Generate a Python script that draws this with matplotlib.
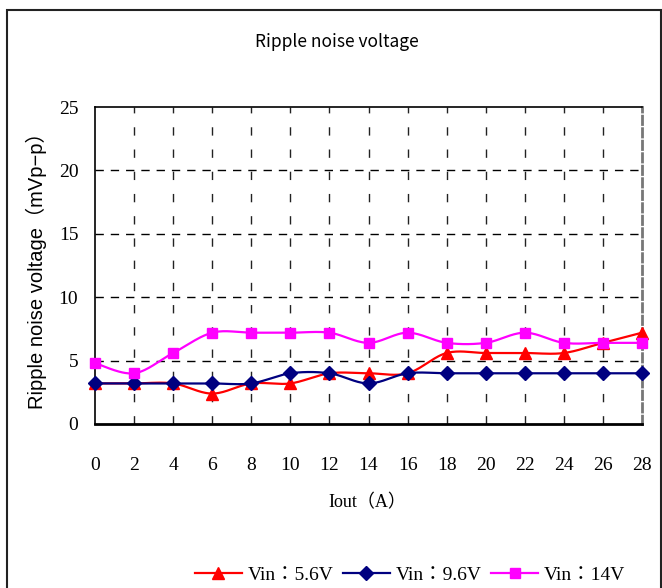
import numpy as np
import matplotlib
matplotlib.use("Agg")
import matplotlib.pyplot as plt
from matplotlib.patches import Rectangle

plt.rcParams['lines.scale_dashes'] = False

iout = [0, 2, 4, 6, 8, 10, 12, 14, 16, 18, 20, 22, 24, 26, 28]
vin_56 = [3.2, 3.2, 3.2, 2.4, 3.2, 3.2, 4.0, 4.0, 4.0, 5.6, 5.6, 5.6, 5.6, 6.4, 7.2]
vin_96 = [3.2, 3.2, 3.2, 3.2, 3.2, 4.0, 4.0, 3.2, 4.0, 4.0, 4.0, 4.0, 4.0, 4.0, 4.0]
vin_14 = [4.8, 4.0, 5.6, 7.2, 7.2, 7.2, 7.2, 6.4, 7.2, 6.4, 6.4, 7.2, 6.4, 6.4, 6.4]
labels = ["Vin：5.6V", "Vin：9.6V", "Vin：14V"]
colors = ["#ff0000", "#000080", "#ff00ff"]
markers = ["^", "D", "s"]
msizes = [9, 7, 7.5]
xticks = list(range(0, 29, 2))
yticks = [0, 5, 10, 15, 20, 25]


def smooth(x, y, n=30):
    x = np.asarray(x, float)
    y = np.asarray(y, float)
    P = np.column_stack([x, y])
    out = [P[0]]
    for i in range(len(P) - 1):
        p0 = P[i - 1] if i > 0 else P[i]
        p1 = P[i]
        p2 = P[i + 1]
        p3 = P[i + 2] if i + 2 < len(P) else P[i + 1]
        c1 = p1 + (p2 - p0) / 6.0
        c2 = p2 - (p3 - p1) / 6.0
        t = np.linspace(0, 1, n)[1:, None]
        seg = ((1 - t) ** 3) * p1 + 3 * ((1 - t) ** 2) * t * c1 + 3 * (1 - t) * t ** 2 * c2 + t ** 3 * p2
        out.extend(seg)
    out = np.array(out)
    return out[:, 0], out[:, 1]


fig = plt.figure(figsize=(6.62, 5.88), dpi=100)
fig.patches.append(Rectangle((6.5 / 662, -0.1), (661 - 6.5) / 662, 1.1 - 10 / 588,
                             transform=fig.transFigure, fill=False,
                             edgecolor='#222222', linewidth=1.5))

ax = fig.add_axes([95 / 662, (588 - 424) / 588, 547 / 662, 317 / 588])
ax.set_xlim(0, 28)
ax.set_ylim(0, 25)

for xv in xticks[1:-1]:
    ax.axvline(xv, color='#222222', linewidth=1.0, linestyle=(0, (6, 10)), zorder=1)
for yv in yticks[1:-1]:
    ax.axhline(yv, color='black', linewidth=1.0, linestyle=(0, (6, 5)), zorder=1)

handles = []
for ys, lab, c, m, ms in zip([vin_56, vin_96, vin_14], labels, colors, markers, msizes):
    sx, sy = smooth(iout, ys)
    ax.plot(sx, sy, color=c, linewidth=1.6, zorder=3, clip_on=False)
    ax.plot(iout, ys, linestyle='none', marker=m, markersize=ms, color=c,
            markeredgecolor=c, zorder=4, clip_on=False)
    h, = ax.plot([], [], color=c, linewidth=1.6, marker=m, markersize=ms)
    handles.append(h)

ax.spines['top'].set_linewidth(1.2)
ax.spines['left'].set_linewidth(1.2)
ax.spines['bottom'].set_linewidth(2.0)
ax.spines['bottom'].set_linestyle((0, (2.5, 2)))
ax.spines['right'].set_linewidth(2.0)
ax.spines['right'].set_color('#777777')
ax.spines['right'].set_linestyle((0, (6, 3)))

ax.set_xticks(xticks)
ax.set_yticks(yticks)
ax.tick_params(axis='both', length=0)
ax.tick_params(axis='x', pad=24)
ax.tick_params(axis='y', pad=12)
for t in ax.get_xticklabels() + ax.get_yticklabels():
    t.set_fontfamily('Liberation Serif')
    t.set_fontsize(14)

ax.set_ylabel("Ripple noise voltage（mVp−p）", fontsize=14.5,
              family=['Liberation Sans', 'Noto Sans CJK JP'])
ax.yaxis.set_label_coords(-0.087, 0.5)
ax.set_xlabel("Iout（A）", fontsize=13, family=['Liberation Serif', 'Noto Sans CJK JP'])
ax.xaxis.set_label_coords(0.497, -0.22)

fig.text(337 / 662, 1 - 42 / 588, "Ripple noise voltage", ha='center', va='center',
         fontsize=12.5, family=['Noto Sans CJK JP', 'DejaVu Sans'])

fig.legend(handles=handles, labels=labels, loc='center', ncol=3,
           bbox_to_anchor=(410 / 662, 1 - 575 / 588), frameon=False,
           prop={'family': ['Liberation Serif', 'Noto Sans CJK JP'], 'size': 14},
           handlelength=2.4, handletextpad=0.3, columnspacing=0.5)

fig.savefig("out.png", dpi=100)
